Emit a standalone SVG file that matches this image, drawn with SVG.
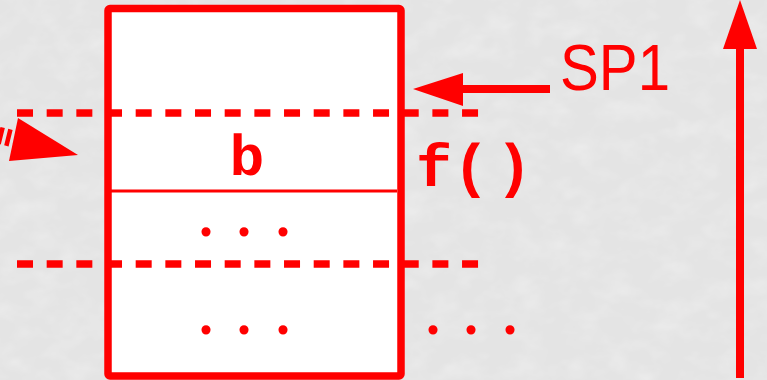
<svg xmlns="http://www.w3.org/2000/svg" width="767" height="380" viewBox="0 0 767 380">
  <defs>
    <filter id="marble" x="0" y="0" width="100%" height="100%">
      <feTurbulence type="fractalNoise" baseFrequency="0.035 0.05" numOctaves="3" seed="7" result="n"/>
      <feColorMatrix in="n" type="matrix" values="0 0 0 0 0.93  0 0 0 0 0.93  0 0 0 0 0.93  -0.5 0 0 0.5 0.05" result="c"/>
      <feComposite in="c" in2="SourceGraphic" operator="over"/>
    </filter>
    <style>
      .red { fill: #ff0000; }
      .dash { stroke: #ff0000; stroke-width: 7.5; stroke-dasharray: 16 13.67; fill: none; }
      .mono { font-family: "Liberation Mono", "Courier New", monospace; font-weight: bold; fill: #ff0000; }
      .dots { font-family: "Liberation Serif", "Times New Roman", serif; font-weight: bold; fill: #ff0000; font-size: 56px; }
      .sans { font-family: "Liberation Sans", Arial, sans-serif; fill: #ff0000; }
      .shaft { stroke: #ff0000; stroke-width: 8; fill: none; }
    </style>
  </defs>

  <rect id="background" x="0" y="0" width="767" height="380" fill="#e4e4e4"/>
  <rect x="0" y="0" width="767" height="380" fill="#e4e4e4" filter="url(#marble)"/>

  <g id="stack">
    <rect x="108" y="8.5" width="293" height="367.5" rx="2" fill="#ffffff" stroke="#ff0000" stroke-width="7.5"/>
    <line x1="108" y1="191" x2="397" y2="191" stroke="#ff0000" stroke-width="3"/>
  </g>

  <g id="frame-bounds">
    <line class="dash" x1="17" y1="113" x2="479" y2="113"/>
    <line class="dash" x1="17" y1="264" x2="479" y2="264"/>
  </g>

  <g id="label-b">
    <text class="mono" x="247" y="175" font-size="58" text-anchor="middle">b</text>
  </g>
  <g id="dots-1">
    <text class="dots" x="206 244 283" y="235.5" text-anchor="middle">...</text>
  </g>
  <g id="dots-2">
    <text class="dots" x="206 244 283" y="333.5" text-anchor="middle">...</text>
  </g>
  <g id="dots-3">
    <text class="dots" x="433 471 510" y="333.5" text-anchor="middle">...</text>
  </g>
  <g id="label-f">
    <text class="mono" x="434 471 514" y="186" font-size="60" text-anchor="middle">f()</text>
  </g>
  <g id="label-sp1">
    <text class="sans" x="560" y="90" font-size="64" textLength="110" lengthAdjust="spacingAndGlyphs">SP1</text>
  </g>

  <g id="connectors">
    <line class="shaft" x1="550" y1="89" x2="455" y2="89"/>
    <polygon class="red" points="413,89 463,73 463,106"/>
    <line class="shaft" x1="740" y1="378" x2="740" y2="44"/>
    <polygon class="red" points="740,0 723,49 757,49"/>
    <line x1="-63.7" y1="119.9" x2="14" y2="139" stroke="#ff0000" stroke-width="17" stroke-dasharray="4.5 3.5"/>
    <polygon class="red" points="18,118 78,155 9,161"/>
  </g>
</svg>
